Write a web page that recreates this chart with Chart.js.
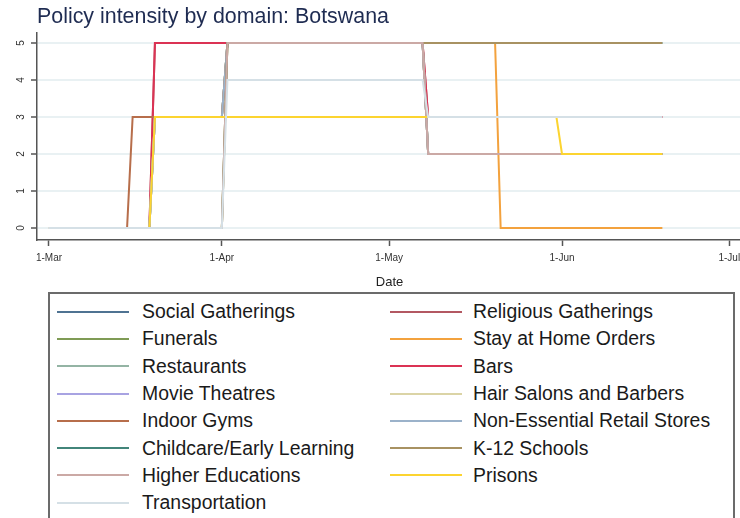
<!DOCTYPE html>
<html>
<head>
<meta charset="utf-8">
<script src="https://cdn.jsdelivr.net/npm/chart.js@4.4.1/dist/chart.umd.min.js"></script>
<style>
  html, body { margin: 0; padding: 0; background: #fff; overflow: hidden; width: 740px; height: 518px; }
  #wrap { position: relative; width: 740px; height: 518px; overflow: hidden; }
  #chart { position: absolute; left: 0; top: 0; }
  #legend {
    position: absolute; left: 48px; top: 292px; width: 687px; height: 240px;
    border: 2px solid #6b6b6b; box-sizing: border-box;
    font-family: "Liberation Sans", Arial, sans-serif; font-size: 19.4px; color: #1a1a1a;
    padding-top: 4px;
  }
  .row { display: flex; height: 27.3px; align-items: center; }
  .item { display: flex; align-items: center; }
  .item.c1 { width: 333px; padding-left: 7px; }
  .swatch { width: 72px; height: 2px; margin-right: 13px; }
  .item.c2 .swatch { margin-right: 11px; }
</style>
</head>
<body>
<div id="wrap">
  <canvas id="chart" width="770" height="290"></canvas>
  <div id="legend"></div>
</div>
<script>
// days since 1 March where the series change
const days = [0, 14, 15, 18, 19, 31, 32, 67, 68, 80, 81, 91, 92, 110];

const socialGatherings    = [0, 0, 0, 0, 3, 3, 5, 5, 2, 2, 2, 2, 2, 2];
const religiousGatherings = [0, 0, 0, 0, 5, 5, 5, 5, 3, 3, 3, 3, 3, 3];
const funerals            = [0, 0, 0, 0, 3, 3, 5, 5, 2, 2, 2, 2, 2, 2];
const stayAtHome          = [0, 0, 0, 0, 0, 0, 5, 5, 5, 5, 0, 0, 0, 0];
const restaurants         = [0, 0, 0, 0, 3, 3, 5, 5, 2, 2, 2, 2, 2, 2];
const bars                = [0, 0, 0, 0, 5, 5, 5, 5, 3, 3, 3, 3, 3, 3];
const movieTheatres       = [0, 0, 0, 0, 3, 3, 5, 5, 2, 2, 2, 2, 2, 2];
const hairSalons          = [0, 0, 0, 0, 3, 3, 5, 5, 2, 2, 2, 2, 2, 2];
const indoorGyms          = [0, 0, 3, 3, 3, 3, 5, 5, 2, 2, 2, 2, 2, 2];
const nonEssentialRetail  = [0, 0, 0, 0, 3, 3, 5, 5, 2, 2, 2, 2, 2, 2];
const childcare           = [0, 0, 0, 0, 0, 0, 5, 5, 5, 5, 5, 5, 5, 5];
const k12Schools          = [0, 0, 0, 0, 0, 0, 5, 5, 5, 5, 5, 5, 5, 5];
const higherEducations    = [0, 0, 0, 0, 0, 0, 5, 5, 2, 2, 2, 2, 2, 2];
const prisons             = [0, 0, 0, 0, 3, 3, 3, 3, 3, 3, 3, 3, 2, 2];
const transportation      = [0, 0, 0, 0, 0, 0, 4, 4, 3, 3, 3, 3, 3, 3];

const xTickDays = [0, 31, 61, 92, 122];
const xTickLabels = ['1-Mar', '1-Apr', '1-May', '1-Jun', '1-Jul'];
const yTicks = [0, 1, 2, 3, 4, 5];

const series = [
    ['Social Gatherings', socialGatherings, '#4f7392'],
    ['Religious Gatherings', religiousGatherings, '#b35862'],
    ['Funerals', funerals, '#7f9b55'],
    ['Stay at Home Orders', stayAtHome, '#f3a23e'],
    ['Restaurants', restaurants, '#94b4a4'],
    ['Bars', bars, '#db3354'],
    ['Movie Theatres', movieTheatres, '#a8a3e2'],
    ['Hair Salons and Barbers', hairSalons, '#dbd4a6'],
    ['Indoor Gyms', indoorGyms, '#b76e4b'],
    ['Non-Essential Retail Stores', nonEssentialRetail, '#9bb2ca'],
    ['Childcare/Early Learning', childcare, '#42857a'],
    ['K-12 Schools', k12Schools, '#a89262'],
    ['Higher Educations', higherEducations, '#cba9a5'],
    ['Prisons', prisons, '#fcd430'],
    ['Transportation', transportation, '#d5e0e6']
];

const datasets = series.map(([label, values, color], i) => ({
    label: label,
    data: values.map((v, j) => ({ x: days[j], y: v })),
    borderColor: color,
    backgroundColor: color,
    borderWidth: 2,
    pointRadius: 0,
    tension: 0,
    order: series.length - i   // later series drawn on top
}));

const ctx = document.getElementById('chart').getContext('2d');
const chart = new Chart(ctx, {
    type: 'line',
    data: { datasets: datasets },
    options: {
        responsive: false,
        animation: false,
        devicePixelRatio: 1,
        layout: { padding: { left: 0, top: 0, bottom: 0, right: 28 } },
        plugins: {
            legend: { display: false },
            tooltip: { enabled: false },
            title: {
                display: true,
                text: 'Policy intensity by domain: Botswana',
                align: 'start',
                fullSize: false,
                color: '#1f2c52',
                font: { family: '"Liberation Sans", Arial, sans-serif', size: 21.4, weight: 'normal' },
                padding: { top: 4.6, bottom: 2.72 }
            }
        },
        scales: {
            x: {
                type: 'linear',
                min: -2.15,
                max: 124.28,
                afterBuildTicks: (axis) => { axis.ticks = xTickDays.map(v => ({ value: v })); },
                afterFit: (axis) => { axis.height = 50; },
                ticks: {
                    autoSkip: false,
                    maxRotation: 0,
                    padding: 6,
                    color: '#333',
                    font: { family: '"Liberation Sans", Arial, sans-serif', size: 10 },
                    callback: (v) => xTickLabels[xTickDays.indexOf(v)]
                },
                grid: { drawOnChartArea: false, tickLength: 6, tickColor: '#555', tickWidth: 1.5 },
                border: { color: '#555', width: 1.5 },
                title: {
                    display: true,
                    text: 'Date',
                    color: '#222',
                    font: { family: '"Liberation Sans", Arial, sans-serif', size: 13 },
                    padding: { top: 0, bottom: 0 }
                }
            },
            y: {
                min: -12 / 37,
                max: 195 / 37,
                afterBuildTicks: (axis) => { axis.ticks = yTicks.map(v => ({ value: v })); },
                afterFit: (axis) => { axis.width = 37; },
                ticks: {
                    minRotation: 90,
                    maxRotation: 90,
                    crossAlign: 'center',
                    padding: 7,
                    color: '#333',
                    font: { family: '"Liberation Sans", Arial, sans-serif', size: 10 }
                },
                grid: { color: '#e9f1f3', lineWidth: 2, tickLength: 6, tickColor: '#555', tickWidth: 1.5 },
                border: { color: '#555', width: 1.5 }
            }
        }
    }
});

// legend box in two columns, row by row as in the original
const legendEl = document.getElementById('legend');
const items = chart.data.datasets;
for (let r = 0; r < Math.ceil(items.length / 2); r++) {
    const row = document.createElement('div');
    row.className = 'row';
    [items[2 * r], items[2 * r + 1]].forEach((ds, c) => {
        if (!ds) return;
        const item = document.createElement('div');
        item.className = 'item ' + (c === 0 ? 'c1' : 'c2');
        const sw = document.createElement('span');
        sw.className = 'swatch';
        sw.style.background = ds.borderColor;
        const txt = document.createElement('span');
        txt.textContent = ds.label;
        item.appendChild(sw);
        item.appendChild(txt);
        row.appendChild(item);
    });
    legendEl.appendChild(row);
}
</script>
</body>
</html>
